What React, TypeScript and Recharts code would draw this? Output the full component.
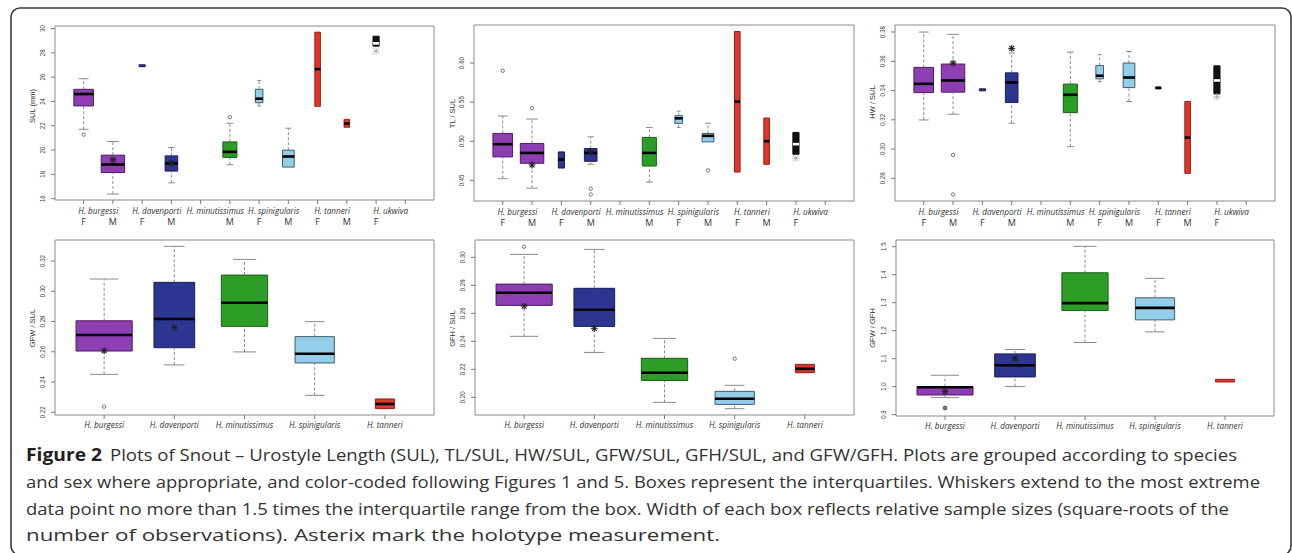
import React from 'react';
import { ComposedChart, XAxis, YAxis, Scatter, ReferenceArea, ReferenceLine } from 'recharts';

// ---------------- categories & labels ----------------
const topSpecies = ['H. burgessi', 'H. davenporti', 'H. minutissimus', 'H. spinigularis', 'H. tanneri', 'H. ukwiva'];
const topSpeciesTicks = [1.5, 3.5, 5.5, 7.5, 9.5, 11.5];
const topSexTicks = [1, 2, 3, 4, 5, 6, 7, 8, 9, 10, 11, 12];
const topSexLabels = ['F', 'M', 'F', 'M', '', 'M', 'F', 'M', 'F', 'M', 'F', ''];
const bottomSpecies = ['H. burgessi', 'H. davenporti', 'H. minutissimus', 'H. spinigularis', 'H. tanneri'];
const bottomTicks = [1, 2, 3, 4, 5];

// top row: which tick each box sits on, and its species
const topBoxPos = [1, 2, 3, 4, 6, 7, 8, 9, 10, 11];
const topBoxSpecies = [0, 0, 1, 1, 2, 3, 3, 4, 4, 5];
const bottomBoxPos = [1, 2, 3, 4, 5];
const bottomBoxSpecies = [0, 1, 2, 3, 4];

// ---------------- Panel 1: SUL (mm) ----------------
const sulLo = [21.71, 16.38, 26.86, 17.31, 18.79, 23.63, 18.6, 23.6, 21.88, 28.55];
const sulQ1 = [23.63, 18.15, 26.86, 18.27, 19.39, 23.9, 18.6, 23.6, 21.88, 28.55];
const sulMed: (number | null)[] = [24.61, 18.81, null, 18.9, 19.85, 24.23, 19.47, 26.66, 22.18, 28.78];
const sulQ3 = [25.0, 19.58, 27.02, 19.52, 20.67, 25.0, 19.99, 29.7, 22.53, 29.37];
const sulHi = [25.87, 20.7, 27.02, 20.21, 22.21, 25.73, 21.8, 29.7, 22.53, 29.37];
const sulOutX = [1, 6];
const sulOutY = [21.27, 22.7];
const sulStarX = [2, 4];
const sulStarY = [19.2, 18.93];
const sulFaintStarX = [11];
const sulFaintStarY = [28.15];

// ---------------- Panel 2: TL / SUL ----------------
const tlLo = [0.4522, 0.4401, 0.4658, 0.4706, 0.4478, 0.5177, 0.4992, 0.4607, 0.4706, 0.4834];
const tlQ1 = [0.48, 0.4719, 0.4658, 0.4744, 0.4684, 0.5229, 0.4992, 0.4607, 0.4706, 0.4834];
const tlMed: (number | null)[] = [0.4963, 0.4851, 0.4766, 0.4851, 0.4851, 0.5293, 0.5069, 0.5507, 0.5001, 0.4963];
const tlQ3 = [0.51, 0.4972, 0.4864, 0.4907, 0.5049, 0.5327, 0.51, 0.6402, 0.5297, 0.5113];
const tlHi = [0.5323, 0.5284, 0.4864, 0.5057, 0.5177, 0.5383, 0.5229, 0.6402, 0.5297, 0.5113];
const tlOutX = [1, 2, 4, 4, 8];
const tlOutY = [0.59, 0.5422, 0.4393, 0.432, 0.4628];
const tlStarX = [2, 4];
const tlStarY = [0.4697, 0.4864];
const tlFaintStarX = [11];
const tlFaintStarY = [0.4785];

// ---------------- Panel 3: HW / SUL ----------------
const hwLo = [0.3199, 0.3238, 0.3398, 0.3177, 0.3016, 0.346, 0.3325, 0.3412, 0.2834, 0.3377];
const hwQ1 = [0.3386, 0.3389, 0.3398, 0.3318, 0.3249, 0.348, 0.342, 0.3412, 0.2834, 0.3377];
const hwMed: (number | null)[] = [0.3446, 0.3469, null, 0.3455, 0.3371, 0.3501, 0.3489, 0.3418, 0.3078, 0.3469];
const hwQ3 = [0.3558, 0.3581, 0.3412, 0.3521, 0.3444, 0.3571, 0.3588, 0.3424, 0.3325, 0.3569];
const hwHi = [0.38, 0.3784, 0.3412, 0.3656, 0.3663, 0.3645, 0.3667, 0.3424, 0.3325, 0.3569];
const hwOutX = [2, 2];
const hwOutY = [0.296, 0.269];
const hwStarX = [2, 4];
const hwStarY = [0.3588, 0.3688];
const hwFaintStarX = [11];
const hwFaintStarY = [0.3357];

// ---------------- Panel 4: GFW / SUL ----------------
const gfwLo = [0.2451, 0.2513, 0.2599, 0.2312, 0.2224];
const gfwQ1 = [0.2605, 0.2627, 0.2768, 0.2526, 0.2224];
const gfwMed: (number | null)[] = [0.2711, 0.2817, 0.2924, 0.2587, 0.2255];
const gfwQ3 = [0.2805, 0.3059, 0.3107, 0.27, 0.2288];
const gfwHi = [0.3081, 0.3297, 0.3211, 0.2799, 0.2288];
const gfwOutX = [1];
const gfwOutY = [0.2237];
const gfwStarX = [1, 2];
const gfwStarY = [0.2607, 0.2762];

// ---------------- Panel 5: GFH / SUL ----------------
const gfhLo = [0.2436, 0.2321, 0.1964, 0.1919, 0.2176];
const gfhQ1 = [0.2657, 0.2507, 0.2121, 0.195, 0.2176];
const gfhMed: (number | null)[] = [0.2747, 0.2626, 0.2176, 0.199, 0.2204];
const gfhQ3 = [0.2809, 0.2779, 0.2279, 0.2043, 0.2236];
const gfhHi = [0.3021, 0.3057, 0.2421, 0.2086, 0.2236];
const gfhOutX = [1, 4];
const gfhOutY = [0.3076, 0.2276];
const gfhStarX = [1, 2];
const gfhStarY = [0.2652, 0.2493];

// ---------------- Panel 6: GFW / GFH ----------------
const ratioLo = [0.9608, 1.0002, 1.1577, 1.1957, 1.0167];
const ratioQ1 = [0.97, 1.0346, 1.2723, 1.2386, 1.0167];
const ratioMed: (number | null)[] = [0.998, 1.0765, 1.2984, 1.2816, null];
const ratioQ3 = [1.0, 1.117, 1.4069, 1.3174, 1.026];
const ratioHi = [1.0406, 1.1327, 1.5014, 1.3869, 1.026];
const ratioOutX = [1];
const ratioOutY = [0.9236];
const ratioStarX = [1, 2];
const ratioStarY = [0.9833, 1.1004];

// ---------------- styles (kept apart from data) ----------------
const speciesFill = ['#8e3eb3', '#2c3590', '#2c9e28', '#93cfea', '#e2352a', '#111111'];
const speciesStroke = ['#4b1d5f', '#1a1f55', '#1a5e17', '#3f5d6b', '#8c2018', '#111111'];
const speciesMedian = ['#000000', '#000000', '#000000', '#000000', '#000000', '#ffffff'];
const topBoxWidths = [0.67, 0.8, 0.21, 0.43, 0.48, 0.26, 0.4, 0.19, 0.19, 0.21];
const bottomBoxWidths = [0.8, 0.58, 0.66, 0.56, 0.27];

const zip = (xs: number[], ys: number[]) => xs.map((x, i) => ({ x, y: ys[i] }));

type PanelCfg = {
  id: string;
  left: number; top: number; width: number; height: number;
  marginTop: number; yAxisWidth: number;
  xDomain: [number, number]; yDomain: [number, number];
  yTicks: number[]; yDigits: number;
  row: 'top' | 'bottom';
  pos: number[]; species: number[]; widths: number[];
  lo: number[]; q1: number[]; med: (number | null)[]; q3: number[]; hi: number[];
  outliers: { x: number; y: number }[];
  stars: { x: number; y: number }[];
  faintStars: { x: number; y: number }[];
  filledOutlier?: boolean;
};

const panels: PanelCfg[] = [
  {
    id: 'sul', left: 0, top: 0, width: 440, height: 230, marginTop: 26, yAxisWidth: 55,
    xDomain: [0.02, 12.98], yDomain: [15.89, 30.21], yTicks: [16, 18, 20, 22, 24, 26, 28, 30], yDigits: 0,
    row: 'top', pos: topBoxPos, species: topBoxSpecies, widths: topBoxWidths,
    lo: sulLo, q1: sulQ1, med: sulMed, q3: sulQ3, hi: sulHi,
    outliers: zip(sulOutX, sulOutY), stars: zip(sulStarX, sulStarY), faintStars: zip(sulFaintStarX, sulFaintStarY),
  },
  {
    id: 'tl', left: 420, top: 0, width: 440, height: 231, marginTop: 25, yAxisWidth: 54,
    xDomain: [0.02, 12.98], yDomain: [0.4237, 0.6485], yTicks: [0.45, 0.5, 0.55, 0.6], yDigits: 2,
    row: 'top', pos: topBoxPos, species: topBoxSpecies, widths: topBoxWidths,
    lo: tlLo, q1: tlQ1, med: tlMed, q3: tlQ3, hi: tlHi,
    outliers: zip(tlOutX, tlOutY), stars: zip(tlStarX, tlStarY), faintStars: zip(tlFaintStarX, tlFaintStarY),
  },
  {
    id: 'hw', left: 840, top: 0, width: 441, height: 231, marginTop: 25, yAxisWidth: 55,
    xDomain: [0.02, 12.98], yDomain: [0.2645, 0.3848], yTicks: [0.28, 0.3, 0.32, 0.34, 0.36, 0.38], yDigits: 2,
    row: 'top', pos: topBoxPos, species: topBoxSpecies, widths: topBoxWidths,
    lo: hwLo, q1: hwQ1, med: hwMed, q3: hwQ3, hi: hwHi,
    outliers: zip(hwOutX, hwOutY), stars: zip(hwStarX, hwStarY), faintStars: zip(hwFaintStarX, hwFaintStarY),
  },
  {
    id: 'gfw', left: 0, top: 215, width: 440, height: 230, marginTop: 25, yAxisWidth: 55,
    xDomain: [0.3, 5.7], yDomain: [0.2182, 0.3339], yTicks: [0.22, 0.24, 0.26, 0.28, 0.3, 0.32], yDigits: 2,
    row: 'bottom', pos: bottomBoxPos, species: bottomBoxSpecies, widths: bottomBoxWidths,
    lo: gfwLo, q1: gfwQ1, med: gfwMed, q3: gfwQ3, hi: gfwHi,
    outliers: zip(gfwOutX, gfwOutY), stars: zip(gfwStarX, gfwStarY), faintStars: [],
  },
  {
    id: 'gfh', left: 420, top: 215, width: 440, height: 230, marginTop: 25, yAxisWidth: 55,
    xDomain: [0.3, 5.7], yDomain: [0.1874, 0.3124], yTicks: [0.2, 0.22, 0.24, 0.26, 0.28, 0.3], yDigits: 2,
    row: 'bottom', pos: bottomBoxPos, species: bottomBoxSpecies, widths: bottomBoxWidths,
    lo: gfhLo, q1: gfhQ1, med: gfhMed, q3: gfhQ3, hi: gfhHi,
    outliers: zip(gfhOutX, gfhOutY), stars: zip(gfhStarX, gfhStarY), faintStars: [],
  },
  {
    id: 'ratio', left: 840, top: 215, width: 440, height: 231, marginTop: 25, yAxisWidth: 56,
    xDomain: [0.3, 5.7], yDomain: [0.895, 1.524], yTicks: [0.9, 1.0, 1.1, 1.2, 1.3, 1.4, 1.5], yDigits: 1,
    row: 'bottom', pos: bottomBoxPos, species: bottomBoxSpecies, widths: bottomBoxWidths,
    lo: ratioLo, q1: ratioQ1, med: ratioMed, q3: ratioQ3, hi: ratioHi,
    outliers: zip(ratioOutX, ratioOutY), stars: zip(ratioStarX, ratioStarY), faintStars: [], filledOutlier: true,
  },
];

const yTitles = [
  { text: 'SUL (mm)', x: 35, y: 106 },
  { text: 'TL / SUL', x: 455, y: 113.5 },
  { text: 'HW / SUL', x: 875, y: 102 },
  { text: 'GFW / SUL', x: 35, y: 328 },
  { text: 'GFH / SUL', x: 455, y: 328.5 },
  { text: 'GFW / GFH', x: 875, y: 328 },
];

const captionLines = [
  'Plots of Snout \u2013 Urostyle Length (SUL), TL/SUL, HW/SUL, GFW/SUL, GFH/SUL, and GFW/GFH. Plots are grouped according to species',
  'and sex where appropriate, and color-coded following Figures 1 and 5. Boxes represent the interquartiles. Whiskers extend to the most extreme',
  'data point no more than 1.5 times the interquartile range from the box. Width of each box reflects relative sample sizes (square-roots of the',
  'number of observations). Asterix mark the holotype measurement.',
];

const AXIS_GRAY = '#7a7a7a';
const TICK_FONT = 'Liberation Sans, Arial, sans-serif';
const LABEL_FONT = 'Open Sans, sans-serif';

const Star = (props: any) => {
  const { cx, cy } = props;
  if (cx == null || cy == null) return <g />;
  const r = 3.4;
  const d = r * 0.72;
  return (
    <g stroke="#222" strokeWidth={1.1}>
      <line x1={cx - r} y1={cy} x2={cx + r} y2={cy} />
      <line x1={cx} y1={cy - r} x2={cx} y2={cy + r} />
      <line x1={cx - d} y1={cy - d} x2={cx + d} y2={cy + d} />
      <line x1={cx - d} y1={cy + d} x2={cx + d} y2={cy - d} />
    </g>
  );
};

const FaintStar = (props: any) => {
  const { cx, cy } = props;
  if (cx == null || cy == null) return <g />;
  const r = 3.6;
  const d = r * 0.72;
  return (
    <g stroke="#9a9a9a" strokeWidth={1.1} strokeDasharray="1 1">
      <line x1={cx - r} y1={cy} x2={cx + r} y2={cy} />
      <line x1={cx} y1={cy - r} x2={cx} y2={cy + r} />
      <line x1={cx - d} y1={cy - d} x2={cx + d} y2={cy + d} />
      <line x1={cx - d} y1={cy + d} x2={cx + d} y2={cy - d} />
    </g>
  );
};

const OpenCircle = (props: any) => {
  const { cx, cy } = props;
  if (cx == null || cy == null) return <g />;
  return <circle cx={cx} cy={cy} r={1.7} fill="none" stroke="#555" strokeWidth={0.8} />;
};

const FilledCircle = (props: any) => {
  const { cx, cy } = props;
  if (cx == null || cy == null) return <g />;
  return <circle cx={cx} cy={cy} r={1.9} fill="#777" stroke="#444" strokeWidth={0.8} />;
};

function Panel({ cfg }: { cfg: PanelCfg }) {
  const yFmt = (v: number) => (cfg.yDigits === 0 ? String(v) : v.toFixed(cfg.yDigits));

  const xTicks = cfg.row === 'top'
    ? [...topSexTicks, ...topSpeciesTicks].sort((a, b) => a - b)
    : bottomTicks;

  const renderXTick = (props: any) => {
    const { x, y, payload } = props;
    const v = payload.value as number;
    const isInt = Math.abs(v - Math.round(v)) < 1e-6;
    if (cfg.row === 'top') {
      if (isInt) {
        return (
          <g>
            <line x1={x} x2={x} y1={y} y2={y + 4} stroke={AXIS_GRAY} strokeWidth={1} />
            <text x={x} y={y + 24.5} textAnchor="middle" fontSize={9} fontFamily={LABEL_FONT} fill="#333">
              {topSexLabels[Math.round(v) - 1]}
            </text>
          </g>
        );
      }
      const idx = topSpeciesTicks.indexOf(v);
      return (
        <text transform={`translate(${x},${y + 13.5}) scale(0.91,1)`} textAnchor="middle" fontSize={9}
          fontStyle="italic" fontFamily={LABEL_FONT} fill="#333">
          {topSpecies[idx]}
        </text>
      );
    }
    return (
      <g>
        <line x1={x} x2={x} y1={y} y2={y + 4} stroke={AXIS_GRAY} strokeWidth={1} />
        <text transform={`translate(${x},${y + 13.3}) scale(0.91,1)`} textAnchor="middle" fontSize={9}
          fontStyle="italic" fontFamily={LABEL_FONT} fill="#333">
          {bottomSpecies[Math.round(v) - 1]}
        </text>
      </g>
    );
  };

  const renderYTick = (props: any) => {
    const { x, y, payload } = props;
    return (
      <text transform={`translate(${x},${y}) rotate(-90) scale(0.87,1)`} textAnchor="middle" fontSize={7}
        fontFamily={TICK_FONT} fill="#444">
        {yFmt(payload.value)}
      </text>
    );
  };

  const elems: React.ReactNode[] = [];
  // plot frame
  elems.push(
    <ReferenceArea key="frame" x1={cfg.xDomain[0]} x2={cfg.xDomain[1]} y1={cfg.yDomain[0]} y2={cfg.yDomain[1]}
      fill="none" fillOpacity={0} stroke="#8a8a8a" strokeWidth={1} ifOverflow="visible" />
  );
  cfg.pos.forEach((p, i) => {
    const w = cfg.widths[i];
    const sp = cfg.species[i];
    const lo = cfg.lo[i], q1 = cfg.q1[i], q3 = cfg.q3[i], hi = cfg.hi[i], med = cfg.med[i];
    if (hi > q3) {
      elems.push(<ReferenceLine key={`wu${i}`} segment={[{ x: p, y: q3 }, { x: p, y: hi }]} stroke="#6e6e6e"
        strokeWidth={0.8} strokeDasharray="3 2" ifOverflow="visible" />);
      elems.push(<ReferenceLine key={`su${i}`} segment={[{ x: p - w / 4, y: hi }, { x: p + w / 4, y: hi }]} stroke="#8a8a8a"
        strokeWidth={1} ifOverflow="visible" />);
    }
    if (lo < q1) {
      elems.push(<ReferenceLine key={`wl${i}`} segment={[{ x: p, y: lo }, { x: p, y: q1 }]} stroke="#6e6e6e"
        strokeWidth={0.8} strokeDasharray="3 2" ifOverflow="visible" />);
      elems.push(<ReferenceLine key={`sl${i}`} segment={[{ x: p - w / 4, y: lo }, { x: p + w / 4, y: lo }]} stroke="#8a8a8a"
        strokeWidth={1} ifOverflow="visible" />);
    }
    elems.push(
      <ReferenceArea key={`box${i}`} x1={p - w / 2} x2={p + w / 2} y1={q1} y2={q3} fill={speciesFill[sp]} fillOpacity={1}
        stroke={speciesStroke[sp]} strokeWidth={1} ifOverflow="visible" />
    );
    if (med != null) {
      elems.push(<ReferenceLine key={`med${i}`} segment={[{ x: p - w / 2, y: med }, { x: p + w / 2, y: med }]}
        stroke={speciesMedian[sp]} strokeWidth={2.6} ifOverflow="visible" />);
    }
  });

  return (
    <div style={{ position: 'absolute', left: cfg.left, top: cfg.top, width: cfg.width, height: cfg.height }}>
      <ComposedChart width={cfg.width} height={cfg.height}
        margin={{ top: cfg.marginTop, right: 6, left: 0, bottom: 0 }}>
        <XAxis type="number" dataKey="x" domain={cfg.xDomain} allowDataOverflow ticks={xTicks} interval={0}
          axisLine={false} tickLine={false} tickSize={0} tickMargin={0} height={30} tick={renderXTick} />
        <YAxis type="number" dataKey="y" domain={cfg.yDomain} allowDataOverflow ticks={cfg.yTicks} interval={0}
          width={cfg.yAxisWidth} axisLine={false} tickLine={{ stroke: AXIS_GRAY }} tickSize={4} tickMargin={6}
          tick={renderYTick} />
        {elems}
        <Scatter data={cfg.outliers} isAnimationActive={false}
          shape={cfg.filledOutlier ? FilledCircle : OpenCircle} />
        <Scatter data={cfg.stars} isAnimationActive={false} shape={Star} />
        <Scatter data={cfg.faintStars} isAnimationActive={false} shape={FaintStar} />
      </ComposedChart>
    </div>
  );
}

export default function App() {
  const lineY = [461, 487.8, 514.6, 541.4];
  const lineEnd = [1237, 1260, 1229, 720];
  return (
    <div style={{ position: 'fixed', left: 0, top: 0, width: 1292, height: 553, background: '#fff', overflow: 'hidden' }}>
      {panels.map((p) => <Panel key={p.id} cfg={p} />)}
      <svg width={1292} height={553} style={{ position: 'absolute', left: 0, top: 0, pointerEvents: 'none' }}>
        <rect x={11} y={8} width={1280} height={547} rx={9} ry={9} fill="none" stroke="#3a3a3a" strokeWidth={1.6} />
        {yTitles.map((t) => (
          <text key={t.text} transform={`translate(${t.x},${t.y}) rotate(-90)`} textAnchor="middle" fontSize={7.5}
            fontFamily={TICK_FONT} fill="#333">{t.text}</text>
        ))}
        <text x={26} y={lineY[0]} fontSize={17} fontWeight={700} fontFamily={LABEL_FONT} fill="#231f20"
          textLength={76} lengthAdjust="spacingAndGlyphs">Figure 2</text>
        <text x={110} y={lineY[0]} fontSize={17} fontFamily={LABEL_FONT} fill="#333"
          textLength={lineEnd[0] - 110} lengthAdjust="spacingAndGlyphs">{captionLines[0]}</text>
        {captionLines.slice(1).map((l, i) => (
          <text key={i} x={26} y={lineY[i + 1]} fontSize={17} fontFamily={LABEL_FONT} fill="#333"
            textLength={lineEnd[i + 1] - 26} lengthAdjust="spacingAndGlyphs">{l}</text>
        ))}
      </svg>
    </div>
  );
}
